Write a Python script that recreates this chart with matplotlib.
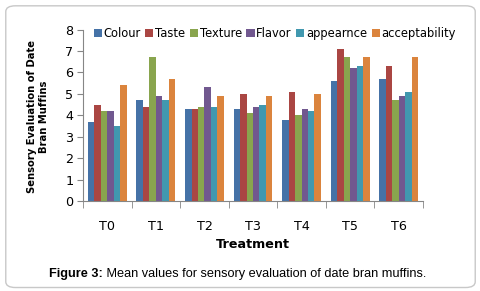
import matplotlib
matplotlib.use('Agg')
import matplotlib.pyplot as plt
from matplotlib.patches import FancyBboxPatch
import numpy as np

treatments = ['T0', 'T1', 'T2', 'T3', 'T4', 'T5', 'T6']
colour = [3.7, 4.7, 4.3, 4.3, 3.8, 5.6, 5.7]
taste = [4.5, 4.4, 4.3, 5.0, 5.1, 7.1, 6.3]
texture = [4.2, 6.7, 4.4, 4.1, 4.0, 6.7, 4.7]
flavor = [4.2, 4.9, 5.3, 4.4, 4.3, 6.2, 4.9]
appearnce = [3.5, 4.7, 4.4, 4.5, 4.2, 6.3, 5.1]
acceptability = [5.4, 5.7, 4.9, 4.9, 5.0, 6.7, 6.7]

series_names = ['Colour', 'Taste', 'Texture', 'Flavor', 'appearnce', 'acceptability']
series = [colour, taste, texture, flavor, appearnce, acceptability]
colors = ['#4572A7', '#AA4643', '#89A54E', '#71588F', '#4198AF', '#DB843D']

fig = plt.figure(figsize=(4.81, 2.91), dpi=100)

# rounded border round the whole figure
border = FancyBboxPatch((0.012, 0.012), 0.976, 0.968, boxstyle='round,pad=0,rounding_size=0.02',
                        transform=fig.transFigure, facecolor='none', edgecolor='#c8c8c8', lw=1.0)
fig.patches.append(border)

ax = fig.add_axes([0.1726, 0.3093, 0.7068, 0.5893])
ax.patch.set_alpha(0)

x = np.arange(len(treatments))
bw = 0.133
for i, (name, vals) in enumerate(zip(series_names, series)):
    ax.bar(x + (i - 2.5) * bw, vals, bw, color=colors[i], label=name)

ax.set_xlim(-0.5, len(treatments) - 0.5)
ax.set_ylim(0, 8)
ax.set_yticks(range(0, 9))
ax.set_xticks(x)
ax.set_xticklabels(treatments)
ax.set_xticks(np.arange(-0.5, len(treatments)), minor=True)
ax.tick_params(axis='x', which='major', length=0, pad=14, labelsize=9.2)
ax.tick_params(axis='x', which='minor', length=5, direction='out', color='#868686')
ax.tick_params(axis='y', length=4, direction='out', color='#868686', labelsize=9.2, pad=3)
for s in ['top', 'right']:
    ax.spines[s].set_visible(False)
for s in ['left', 'bottom']:
    ax.spines[s].set_color('#868686')

ax.set_xlabel('Treatment', fontsize=9.2, fontweight='bold', labelpad=3)
fig.text(0.079, 0.6, 'Sensory Evaluation of Date\nBran Muffins', rotation=90,
         ha='center', va='center', fontsize=7.2, fontweight='bold', linespacing=1.3)

fig.legend(loc='center left', bbox_to_anchor=(0.185, 0.885), ncol=6, frameon=False,
           fontsize=8.3, handlelength=0.7, handleheight=0.7, handletextpad=0.15,
           columnspacing=0.4, borderaxespad=0)

# caption: bold label followed by plain text
t1 = fig.text(0.102, 0.058, 'Figure 3:', fontsize=9.2, fontweight='bold', family='Liberation Sans',
              ha='left', va='center')
ax.annotate(' Mean values for sensory evaluation of date bran muffins.', xy=(1, 0.5),
            xycoords=t1, ha='left', va='center', fontsize=9.2, family='Liberation Sans',
            annotation_clip=False)

fig.savefig('out.png', dpi=100)
